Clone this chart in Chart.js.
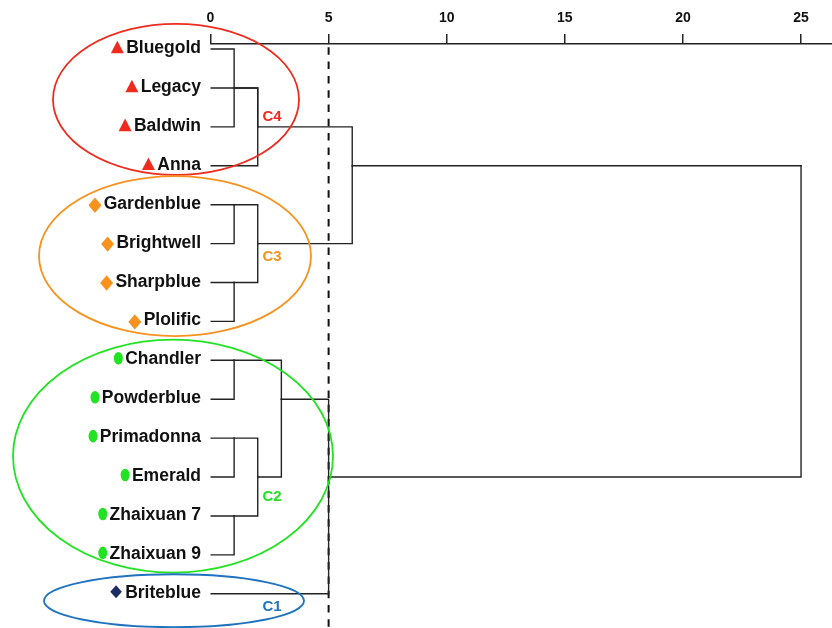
<!DOCTYPE html>
<html>
<head>
<meta charset="utf-8">
<script src="https://cdn.jsdelivr.net/npm/chart.js@4.4.1/dist/chart.umd.min.js"></script>
<style>
  html, body { margin: 0; padding: 0; background: #fff; }
  #wrap { width: 832px; height: 628px; }
</style>
</head>
<body>
<div id="wrap"><canvas id="dendro" width="832" height="628"></canvas></div>
<script>
// cultivars, top to bottom
const cultivars = ['Bluegold', 'Legacy', 'Baldwin', 'Anna', 'Gardenblue', 'Brightwell', 'Sharpblue', 'Plolific',
  'Chandler', 'Powderblue', 'Primadonna', 'Emerald', 'Zhaixuan 7', 'Zhaixuan 9', 'Briteblue'];
const clusterOf = ['C4', 'C4', 'C4', 'C4', 'C3', 'C3', 'C3', 'C3', 'C2', 'C2', 'C2', 'C2', 'C2', 'C2', 'C1'];

// agglomeration steps: what gets joined, rescaled distance, row the branch leaves from
const stepNames = ['s1', 's2', 's3', 's4', 's5', 's6', 's7', 's8', 's9', 's10', 's11', 's12', 's13'];
const stepMembers = [
  ['Bluegold', 'Baldwin'], ['s1', 'Legacy', 'Anna'],
  ['Gardenblue', 'Brightwell'], ['Sharpblue', 'Plolific'], ['s3', 's4'],
  ['s2', 's5'],
  ['Chandler', 'Powderblue'], ['Primadonna', 'Emerald'], ['Zhaixuan 7', 'Zhaixuan 9'],
  ['s8', 's9'], ['s7', 's10'], ['s11', 'Briteblue'],
  ['s6', 's12']
];
const stepDistance = [1, 2, 1, 1, 2, 6, 1, 1, 1, 2, 3, 5, 25];
const stepRow = [1, 2, 4, 6, 5, 3, 8, 10, 12, 11, 9, 11, 3];

const distanceTicks = [0, 5, 10, 15, 20, 25];
const cutDistance = 5;

const Y_MIN = -0.13, Y_MAX = 14.88;

const FONT = '"Liberation Sans", Arial, sans-serif';
const LINE = '#222';

const clusterStyle = {
  C4: { color: '#ee2b1d', marker: 'triangle', ellipse: { dx: -34.5, dy: -8, rx: 123, ry: 75.5 }, label: { x: 2.2, row: 1.73 } },
  C3: { color: '#f7921e', marker: 'diamond', ellipse: { dx: -35.5, dy: -7, rx: 136, ry: 80 }, label: { x: 2.2, row: 5.35 } },
  C2: { color: '#22e322', marker: 'dot', ellipse: { dx: -37.5, dy: -1.5, rx: 160, ry: 116.5 }, label: { x: 2.2, row: 11.5 } },
  C1: { color: '#1f73bf', marker: 'smallDiamond', markerColor: '#1c2d63', ellipse: { dx: -36.5, dy: 7, rx: 130, ry: 26.5 }, label: { x: 2.2, row: 14.34 } }
};

// position of a leaf or a step: [distance, row]
function nodePos(name) {
  const leaf = cultivars.indexOf(name);
  if (leaf >= 0) return [0, leaf];
  const s = stepNames.indexOf(name);
  return [stepDistance[s], stepRow[s]];
}

// one elbow per child -> parent link
const linkSets = [];
stepNames.forEach((name, s) => {
  const px = stepDistance[s], py = stepRow[s];
  stepMembers[s].forEach(child => {
    const [cx, cy] = nodePos(child);
    linkSets.push({
      data: [{ x: cx, y: cy }, { x: px, y: cy }, { x: px, y: py }],
      borderColor: LINE,
      borderWidth: 1.4,
      pointRadius: 0,
      showLine: true,
      borderCapStyle: 'square',
      fill: false
    });
  });
});

const cutLine = {
  data: [{ x: cutDistance, y: Y_MIN }, { x: cutDistance, y: Y_MAX }],
  borderColor: '#111',
  borderWidth: 2,
  borderDash: [7.5, 6.8],
  borderDashOffset: 11,
  pointRadius: 0,
  showLine: true
};

function drawMarker(ctx, kind, right, y, color) {
  ctx.fillStyle = color;
  ctx.beginPath();
  if (kind === 'triangle') {
    ctx.moveTo(right - 6.5, y - 8.3);
    ctx.lineTo(right, y + 4.3);
    ctx.lineTo(right - 13, y + 4.3);
  } else if (kind === 'diamond') {
    const cx = right - 6.5, cy = y + 0.5;
    ctx.moveTo(cx, cy - 7.7);
    ctx.lineTo(cx + 6.5, cy);
    ctx.lineTo(cx, cy + 7.7);
    ctx.lineTo(cx - 6.5, cy);
  } else if (kind === 'dot') {
    ctx.ellipse(right - 4.5, y - 2, 4.5, 6.3, 0, 0, Math.PI * 2);
  } else {
    const cx = right - 5.8, cy = y - 2;
    ctx.moveTo(cx, cy - 6.6);
    ctx.lineTo(cx + 5.8, cy);
    ctx.lineTo(cx, cy + 6.6);
    ctx.lineTo(cx - 5.8, cy);
  }
  ctx.closePath();
  ctx.fill();
}

const decorations = {
  id: 'decorations',
  afterDraw(chart) {
    const { ctx, chartArea, scales: { x, y } } = chart;
    ctx.save();

    // leaf labels with cluster markers
    ctx.font = 'bold 17.5px ' + FONT;
    ctx.textAlign = 'right';
    ctx.textBaseline = 'alphabetic';
    const textRight = chartArea.left - 9.5;
    cultivars.forEach((name, i) => {
      const py = y.getPixelForValue(i);
      const st = clusterStyle[clusterOf[i]];
      ctx.fillStyle = '#111';
      ctx.fillText(name, textRight, py + 4);
      const w = ctx.measureText(name).width;
      const gap = st.marker === 'smallDiamond' ? 3.3 : 2.3;
      drawMarker(ctx, st.marker, textRight - w - gap, py, st.markerColor || st.color);
    });

    // cluster ellipses and names
    Object.keys(clusterStyle).forEach(c => {
      const st = clusterStyle[c];
      const rows = cultivars.map((_, i) => i).filter(i => clusterOf[i] === c);
      const top = y.getPixelForValue(rows[0]);
      const bottom = y.getPixelForValue(rows[rows.length - 1]);
      const e = st.ellipse;
      ctx.strokeStyle = st.color;
      ctx.lineWidth = 1.8;
      ctx.beginPath();
      ctx.ellipse(chartArea.left + e.dx, (top + bottom) / 2 + e.dy, e.rx, e.ry, 0, 0, Math.PI * 2);
      ctx.stroke();

      ctx.font = 'bold 15px ' + FONT;
      ctx.textAlign = 'left';
      ctx.textBaseline = 'middle';
      ctx.fillStyle = st.color;
      ctx.fillText(c, x.getPixelForValue(st.label.x), y.getPixelForValue(st.label.row));
    });

    ctx.restore();
  }
};

new Chart(document.getElementById('dendro'), {
  type: 'scatter',
  data: { datasets: [...linkSets, cutLine] },
  options: {
    responsive: false,
    animation: false,
    events: [],
    layout: { padding: { left: 210.5, right: 0, top: 0, bottom: 0 } },
    plugins: { legend: { display: false }, tooltip: { enabled: false } },
    scales: {
      x: {
        type: 'linear',
        position: 'top',
        min: 0,
        max: 26.31,
        afterBuildTicks: s => { s.ticks = distanceTicks.map(v => ({ value: v })); },
        afterFit: s => { s.height = 44; },
        ticks: { color: '#111', font: { family: FONT, size: 14, weight: 'bold' }, padding: 7, maxRotation: 0 },
        grid: { drawOnChartArea: false, tickLength: 10, color: LINE, lineWidth: 1.5 },
        border: { color: LINE, width: 1.5 }
      },
      y: {
        type: 'linear',
        reverse: true,
        min: Y_MIN,
        max: Y_MAX,
        display: false
      }
    }
  },
  plugins: [decorations]
});
</script>
</body>
</html>
